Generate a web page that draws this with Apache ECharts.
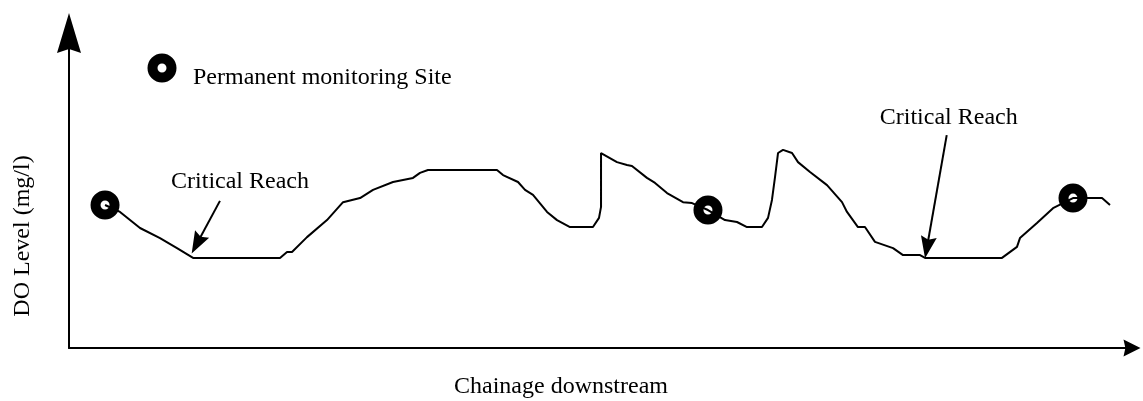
<!DOCTYPE html>
<html>
<head>
<meta charset="utf-8">
<script src="https://cdn.jsdelivr.net/npm/echarts@6/dist/echarts.min.js"></script>
<style>
html,body{margin:0;padding:0;background:#fff;}
#c{width:1143px;height:401px;}
</style>
</head>
<body>
<div id="c"></div>
<script>
// Chainage downstream (relative units, 0-100)
const chainage = [3.39,4.80,6.68,8.56,10.16,11.67,19.85,20.51,20.98,22.39,24.27,25.78,27.38,28.60,30.48,32.36,33.02,33.77,40.26,40.83,42.24,42.90,43.65,44.97,45.91,47.13,49.29,49.86,50.05,50.05,51.55,52.49,52.96,54.37,55.13,56.26,57.76,58.61,60.11,61.71,62.84,63.78,65.19,65.76,66.13,66.42,66.70,67.17,68.02,68.58,69.71,71.31,72.72,73.19,74.22,74.88,75.82,77.52,78.46,80.06,80.53,87.77,89.18,89.46,91.06,92.57,94.45,97.18,97.93];
// DO level (relative units, 0-10)
const doLevel = [4.54,4.32,3.81,3.49,3.17,2.86,2.86,3.05,3.05,3.52,4.06,4.63,4.76,5.02,5.27,5.40,5.56,5.65,5.65,5.49,5.27,5.02,4.86,4.32,4.06,3.84,3.84,4.13,4.48,6.19,5.90,5.81,5.78,5.40,5.24,4.92,4.63,4.60,4.38,4.06,4.00,3.84,3.84,4.13,4.70,5.43,6.19,6.29,6.19,5.90,5.59,5.17,4.63,4.32,3.84,3.84,3.37,3.17,2.95,2.95,2.86,2.86,3.21,3.49,3.97,4.44,4.76,4.76,4.54];
// Permanent monitoring sites
const siteChainage = [3.39, 60.11, 94.45];
const siteDO = [4.54, 4.38, 4.76];
// Critical reach annotations: label position, arrow tail, arrow head
const reachLabels = ['Critical Reach', 'Critical Reach'];
const reachLabelPos = [[16.09, 5.27], [82.76, 7.30]];
const reachArrowTail = [[14.20, 4.67], [82.57, 6.76]];
const reachArrowHead = [[12.03, 3.31], [80.71, 3.19]];
const xName = 'Chainage downstream';
const yName = 'DO Level (mg/l)';
const siteName = 'Permanent monitoring Site';

const FONT = '"Liberation Serif", "Times New Roman", serif';

const chart = echarts.init(document.getElementById('c'), null, {renderer: 'canvas'});
const option = {
  animation: false,
  backgroundColor: '#ffffff',
  grid: {left: 69, right: 11, top: 33, bottom: 53, containLabel: false},
  xAxis: {
    type: 'value', min: 0, max: 100,
    axisLine: {show: true, lineStyle: {color: '#000', width: 2}, symbol: ['none', 'path://M9,0L18,18L9,16L0,18Z'], symbolSize: [17, 17]},
    axisTick: {show: false}, axisLabel: {show: false}, splitLine: {show: false}
  },
  yAxis: {
    type: 'value', min: 0, max: 10,
    axisLine: {show: true, onZero: false, lineStyle: {color: '#000', width: 2}, symbol: ['none', 'path://M12,0L24,40L12,36L0,40Z'], symbolSize: [24, 40]},
    axisTick: {show: false}, axisLabel: {show: false}, splitLine: {show: false}
  },
  graphic: [
    {type: 'circle', shape: {cx: 162, cy: 68, r: 9.5}, style: {fill: '#fff', stroke: '#000', lineWidth: 10}},
    {type: 'text', x: 193, y: 78, style: {text: siteName, font: '24px ' + FONT, fill: '#000', textAlign: 'left', textVerticalAlign: 'middle'}},
    {type: 'text', x: 561, y: 387, style: {text: xName, font: '24px ' + FONT, fill: '#000', textAlign: 'center', textVerticalAlign: 'middle'}},
    {type: 'text', x: 23, y: 236, rotation: Math.PI / 2, style: {text: yName, font: '24px ' + FONT, fill: '#000', textAlign: 'center', textVerticalAlign: 'middle'}}
  ],
  series: [
    {
      name: siteName, type: 'scatter', z: 2,
      symbol: 'circle', symbolSize: 19,
      itemStyle: {color: '#fff', borderColor: '#000', borderWidth: 10, opacity: 1},
      data: siteChainage.map((x, i) => [x, siteDO[i]])
    },
    {
      name: 'DO profile', type: 'line', z: 3, showSymbol: false, symbol: 'none',
      lineStyle: {color: '#000', width: 2},
      data: chainage.map((x, i) => [x, doLevel[i]]),
      markLine: {
        silent: true, animation: false,
        symbol: ['none', 'arrow'],
        symbolSize: 20,
        lineStyle: {color: '#000', width: 2, type: 'solid'},
        label: {show: false},
        emphasis: {disabled: true},
        data: reachArrowTail.map((t, i) => [
          {coord: t, symbol: 'none'},
          {coord: reachArrowHead[i], symbol: 'path://M8,0L16,22L8,19L0,22Z', symbolSize: [16, 22]}
        ])
      },
      markPoint: {
        silent: true, animation: false,
        symbol: 'circle', symbolSize: 0,
        label: {show: true, position: 'inside', color: '#000', fontFamily: FONT, fontSize: 24, formatter: p => p.name},
        data: reachLabels.map((n, i) => ({name: n, coord: reachLabelPos[i]}))
      }
    }
  ]
};
chart.setOption(option);
</script>
</body>
</html>
